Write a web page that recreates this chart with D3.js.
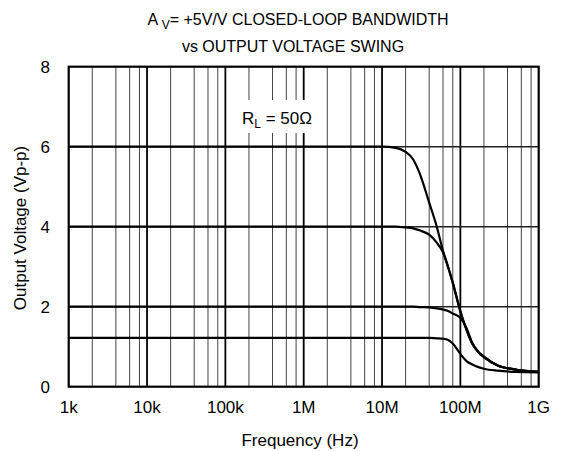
<!DOCTYPE html>
<html>
<head>
<meta charset="utf-8">
<script src="https://d3js.org/d3.v7.min.js"></script>
<style>
  body { margin: 0; background: #fff; }
  text { font-family: "Liberation Sans", Arial, sans-serif; fill: #000; }
</style>
</head>
<body>
<svg></svg>
<script>
// frequency points (Hz) shared by every curve
var freqs = [1e3, 1e7, 1.5e7, 2e7, 2.5e7, 3e7, 4e7, 5e7, 6e7, 7e7, 8e7, 1e8, 1.2e8, 1.4e8, 1.7e8, 2e8, 3e8, 5e8, 1e9];

// output voltage (Vp-p) per curve
var v6  = [6.0, 6.0, 5.97, 5.87, 5.68, 5.35, 4.6, 4.0, 3.4, 2.98, 2.6, 1.88, 1.42, 1.1, 0.86, 0.74, 0.53, 0.43, 0.37];
var v4  = [4.0, 4.0, 4.0, 3.98, 3.96, 3.91, 3.8, 3.6, 3.36, 2.98, 2.6, 1.88, 1.42, 1.1, 0.86, 0.74, 0.53, 0.43, 0.37];
var v2  = [2.0, 2.0, 2.0, 2.0, 2.0, 1.99, 1.98, 1.96, 1.93, 1.89, 1.83, 1.72, 1.46, 1.12, 0.87, 0.75, 0.53, 0.43, 0.37];
var v12 = [1.22, 1.22, 1.22, 1.22, 1.22, 1.22, 1.22, 1.21, 1.2, 1.17, 1.08, 0.82, 0.64, 0.56, 0.49, 0.45, 0.4, 0.37, 0.36];

var xTicks = [1e3, 1e4, 1e5, 1e6, 1e7, 1e8, 1e9];
var xTickLabels = ['1k', '10k', '100k', '1M', '10M', '100M', '1G'];
var yTicks = [0, 2, 4, 6, 8];

var W = 567, H = 451;
var pl = 68.7, pr = 538.7, pt = 66.7, pb = 386.7;

var svg = d3.select('svg').attr('width', W).attr('height', H);

var x = d3.scaleLog().domain([1e3, 1e9]).range([pl, pr]);
var y = d3.scaleLinear().domain([0, 8]).range([pb, pt]);

// minor grid: 2,4,6,8 in every decade
var minor = [];
for (var d = 3; d < 9; d++) {
  [2, 4, 6, 8].forEach(function(m) { minor.push(m * Math.pow(10, d)); });
}

svg.append('g').selectAll('line')
    .data(minor)
  .enter().append('line')
    .attr('x1', function(d) { return x(d); })
    .attr('x2', function(d) { return x(d); })
    .attr('y1', pt).attr('y2', pb)
    .attr('stroke', '#444')
    .attr('stroke-width', 1);

// decade lines
svg.append('g').selectAll('line')
    .data(xTicks.slice(1, -1))
  .enter().append('line')
    .attr('x1', function(d) { return x(d); })
    .attr('x2', function(d) { return x(d); })
    .attr('y1', pt).attr('y2', pb)
    .attr('stroke', '#000')
    .attr('stroke-width', 1.8);

// horizontal grid
svg.append('g').selectAll('line')
    .data(yTicks.slice(1, -1))
  .enter().append('line')
    .attr('x1', pl).attr('x2', pr)
    .attr('y1', function(d) { return y(d); })
    .attr('y2', function(d) { return y(d); })
    .attr('stroke', '#222')
    .attr('stroke-width', 1.5);

// R_L label with white box
var lab = svg.append('g');
lab.append('rect')
    .attr('x', 236).attr('y', 100)
    .attr('width', 88).attr('height', 33)
    .attr('fill', '#fff');
var lt = lab.append('text')
    .attr('x', 242).attr('y', 124)
    .attr('font-size', 17);
lt.append('tspan').text('R');
lt.append('tspan').attr('dy', 4).attr('font-size', 12).text('L');
lt.append('tspan').attr('dy', -4).text(' = 50\u03A9');

// curves
var line = d3.line()
    .x(function(d) { return x(d[0]); })
    .y(function(d) { return y(d[1]); })
    .curve(d3.curveMonotoneX);

[v6, v4, v2, v12].forEach(function(vals) {
  svg.append('path')
      .datum(freqs.map(function(f, i) { return [f, vals[i]]; }))
      .attr('d', line)
      .attr('fill', 'none')
      .attr('stroke', '#000')
      .attr('stroke-width', 2.2);
});

// frame
svg.append('rect')
    .attr('x', pl).attr('y', pt)
    .attr('width', pr - pl).attr('height', pb - pt)
    .attr('fill', 'none')
    .attr('stroke', '#000')
    .attr('stroke-width', 2.2);

// tick labels
svg.append('g').selectAll('text')
    .data(yTicks)
  .enter().append('text')
    .attr('x', 50)
    .attr('y', function(d) { return y(d); })
    .attr('dy', '0.35em')
    .attr('text-anchor', 'end')
    .attr('font-size', 17)
    .text(function(d) { return d; });

svg.append('g').selectAll('text')
    .data(xTicks)
  .enter().append('text')
    .attr('x', function(d) { return x(d); })
    .attr('y', 413)
    .attr('text-anchor', 'middle')
    .attr('font-size', 17)
    .text(function(d, i) { return xTickLabels[i]; });

// axis titles
svg.append('text')
    .attr('x', 300)
    .attr('y', 446)
    .attr('text-anchor', 'middle')
    .attr('font-size', 17)
    .text('Frequency (Hz)');

svg.append('text')
    .attr('transform', 'translate(25.5,228) rotate(-90)')
    .attr('text-anchor', 'middle')
    .attr('font-size', 17)
    .text('Output Voltage (Vp-p)');

// title
var t1 = svg.append('text')
    .attr('x', 298)
    .attr('y', 25)
    .attr('text-anchor', 'middle')
    .attr('font-size', 16);
t1.append('tspan').text('A ');
t1.append('tspan').attr('dy', 4).attr('font-size', 12).text('V');
t1.append('tspan').attr('dy', -4).text('= +5V/V CLOSED-LOOP BANDWIDTH');

svg.append('text')
    .attr('x', 293)
    .attr('y', 51.5)
    .attr('text-anchor', 'middle')
    .attr('font-size', 16)
    .text('vs OUTPUT VOLTAGE SWING');
</script>
</body>
</html>
